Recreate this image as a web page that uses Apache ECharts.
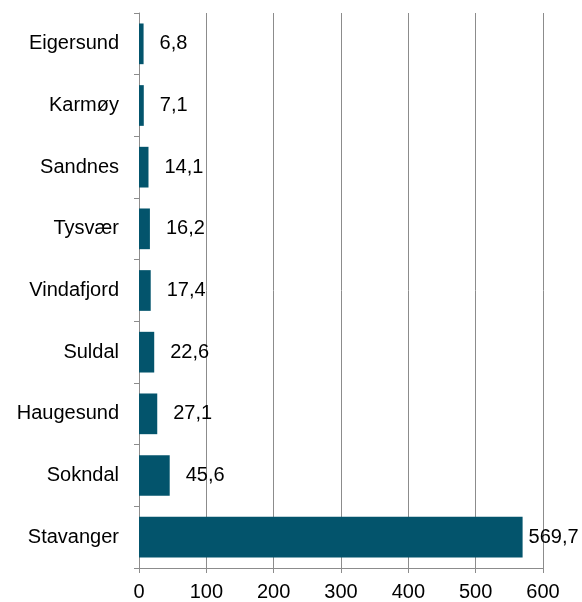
<!DOCTYPE html>
<html><head><meta charset="utf-8">
<script src="https://cdn.jsdelivr.net/npm/echarts@6/dist/echarts.min.js"></script>
<style>html,body{margin:0;padding:0;background:#fff}#c{width:582px;height:602px}</style>
</head><body><div id="c"></div>
<script>
var categories = ['Eigersund','Karmøy','Sandnes','Tysvær','Vindafjord','Suldal','Haugesund','Sokndal','Stavanger'];
var values = [6.8, 7.1, 14.1, 16.2, 17.4, 22.6, 27.1, 45.6, 569.7];
var xTicks = [0, 100, 200, 300, 400, 500, 600];

var chart = echarts.init(document.getElementById('c'));
var font = 'Liberation Sans, Arial, sans-serif';
chart.setOption({
  animation: false,
  grid: {left: 139, right: 39, top: 13, bottom: 33, containLabel: false},
  xAxis: {
    type: 'value', min: xTicks[0], max: xTicks[xTicks.length-1], interval: 100,
    axisLine: {show: true, lineStyle: {color: '#8c8c8c', width: 1}},
    axisTick: {show: true, length: 5, lineStyle: {color: '#8c8c8c'}},
    splitLine: {show: true, lineStyle: {color: '#8c8c8c', width: 1}},
    axisLabel: {color: '#000', fontFamily: font, fontSize: 20, margin: 14}
  },
  yAxis: {
    type: 'category', data: categories, inverse: true,
    axisLine: {show: true, lineStyle: {color: '#8c8c8c', width: 1}},
    axisTick: {show: true, length: 5, lineStyle: {color: '#8c8c8c'}},
    axisLabel: {color: '#000', fontFamily: font, fontSize: 20, margin: 20, padding: [4, 0, 0, 0]}
  },
  series: [{
    type: 'bar',
    data: values.map(function(v, i){
      return {value: v, label: {distance: i === values.length-1 ? 6 : 16}};
    }),
    barCategoryGap: '34%',
    itemStyle: {color: '#03546c'},
    label: {show: true, position: 'right', color: '#000', fontFamily: font, fontSize: 20, padding: [4, 0, 0, 0],
      formatter: function(p){ return String(p.value).replace('.', ','); }}
  }]
});
</script></body></html>
